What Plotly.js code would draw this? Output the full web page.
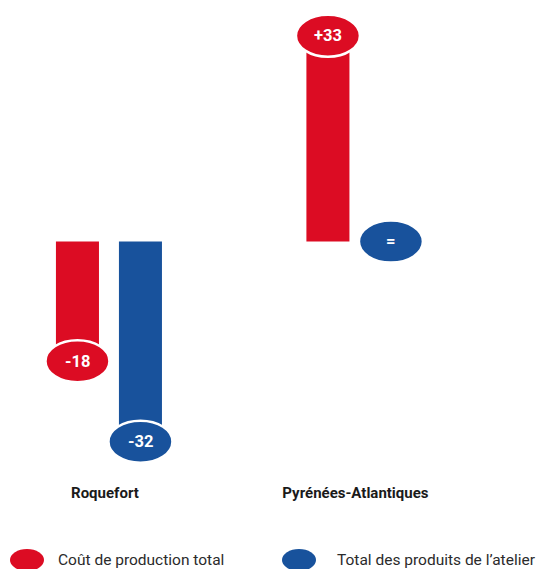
<!DOCTYPE html>
<html>
<head>
<meta charset="utf-8">
<script src="https://cdn.plot.ly/plotly-3.0.1.min.js"></script>
<style>
  html, body { margin: 0; padding: 0; background: #ffffff; }
  #chart { width: 537px; height: 569px; }
</style>
</head>
<body>
<div id="chart"></div>
<script>
// Évolution des coûts et des produits de l'atelier (en %)
const categories = ['Roquefort', 'Pyrénées-Atlantiques'];
const seriesNames = ['Coût de production total', 'Total des produits de l\u2019atelier'];
const coutValues = [-18, 33];
const produitsValues = [-32, 0];

const RED = '#DC0C23';
const BLUE = '#18529C';
const seriesColors = [RED, BLUE];
const seriesValues = [coutValues, produitsValues];

const W = 537, H = 569;
const margin = { l: 0, r: 0, t: 0, b: 91 };
const plotH = H - margin.t - margin.b;
const plotW = W - margin.l - margin.r;

const bargap = 0.497;
const bargroupgap = 0.317;
const slot = (1 - bargap) / 2;            // centre spacing of the two bars in a group
const offsets = [-slot / 2, slot / 2];

// value label inside the ellipse
function fmt(v) {
  if (v > 0) return '+' + v;
  if (v < 0) return String(v);
  return '=';
}

const FONT = 'Roboto, "Liberation Sans", Arial, sans-serif';

const traces = seriesValues.map((vals, s) => ({
  type: 'bar',
  x: categories,
  y: vals,
  name: seriesNames[s],
  marker: { color: seriesColors[s], line: { width: 0 } },
  hoverinfo: 'skip',
  showlegend: false
}));

const shapes = [];
const annotations = [];
const ELL_W = 64, ELL_H = 42, SHIFT = 16;

seriesValues.forEach((vals, s) => {
  vals.forEach((v, i) => {
    const sign = Math.sign(v);
    const xc = i + offsets[s];
    shapes.push({
      type: 'circle', layer: 'above',
      xref: 'x', xsizemode: 'pixel', xanchor: xc, x0: -ELL_W / 2, x1: ELL_W / 2,
      yref: 'y', ysizemode: 'pixel', yanchor: v,
      y0: sign * SHIFT - ELL_H / 2, y1: sign * SHIFT + ELL_H / 2,
      fillcolor: seriesColors[s],
      line: { color: '#ffffff', width: 2.5 }
    });
    annotations.push({
      xref: 'x', yref: 'y', x: xc, y: v, yshift: sign * SHIFT,
      text: '<b>' + fmt(v) + '</b>', showarrow: false,
      xanchor: 'center', yanchor: 'middle',
      font: { family: FONT, size: 16.5, color: '#ffffff' }
    });
  });
});

// legend drawn as large ellipses with labels beneath the chart
const legendY = (plotH - 560) / plotH;
const legendX = [27, 299];
const legendTextX = [56, 335];
seriesNames.forEach((name, s) => {
  shapes.push({
    type: 'circle', layer: 'above',
    xref: 'paper', xsizemode: 'pixel', xanchor: (legendX[s] - margin.l) / plotW, x0: -17, x1: 17,
    yref: 'paper', ysizemode: 'pixel', yanchor: legendY, y0: -11, y1: 11,
    fillcolor: seriesColors[s], line: { width: 0 }
  });
  annotations.push({
    xref: 'paper', yref: 'paper',
    x: (legendTextX[s] - margin.l) / plotW, y: legendY,
    xanchor: 'left', yanchor: 'middle', showarrow: false,
    text: name,
    font: { family: FONT, size: 15.5, color: '#2b2b2b' }
  });
});

const layout = {
  width: W, height: H,
  margin: margin,
  paper_bgcolor: '#ffffff', plot_bgcolor: '#ffffff',
  barmode: 'group', bargap: bargap, bargroupgap: bargroupgap,
  showlegend: false,
  xaxis: {
    type: 'category',
    range: [-0.435, 1.709],
    showgrid: false, zeroline: false, showline: false, ticks: '',
    ticklabelstandoff: 4, ticklabelshift: -4,
    tickfont: { family: FONT, size: 15, color: '#1a1a1a', weight: 'bold' },
    fixedrange: true
  },
  yaxis: {
    range: [-41.1, 42.0],
    visible: false, showgrid: false, zeroline: false, fixedrange: true
  },
  shapes: shapes,
  annotations: annotations
};

Plotly.newPlot('chart', traces, layout, { displayModeBar: false, staticPlot: true });
</script>
</body>
</html>
